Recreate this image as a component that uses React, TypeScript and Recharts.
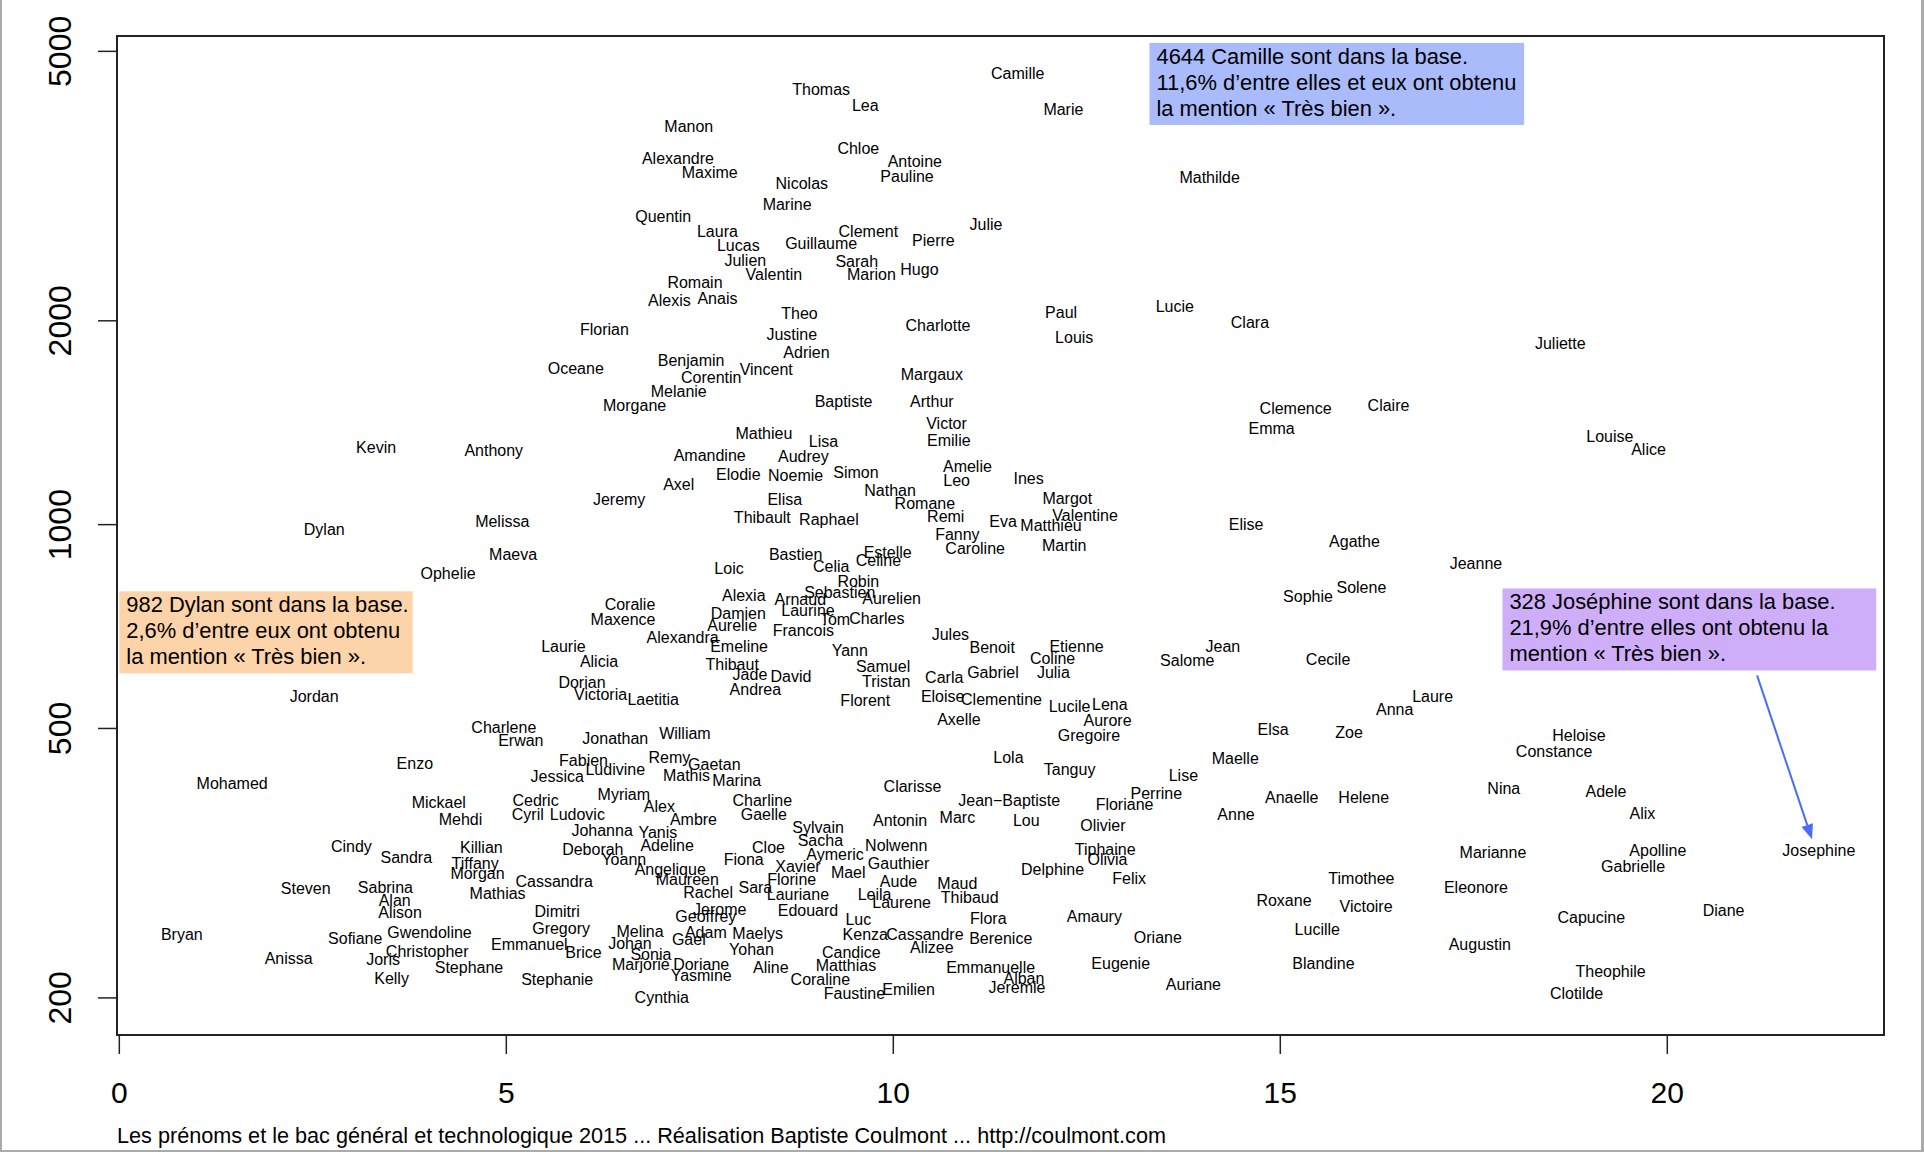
import React from 'react';
import { ScatterChart, Scatter, XAxis, YAxis, ReferenceArea, ReferenceLine } from 'recharts';

const FONT = '"Liberation Sans", Arial, sans-serif';

const xTicks = [0, 5, 10, 15, 20];
const yTicks = [200, 500, 1000, 2000, 5000];

const names = [
  'Camille', 'Marie', 'Thomas', 'Lea', 'Manon', 'Alexandre', 'Maxime', 'Chloe', 'Antoine', 'Pauline',
  'Nicolas', 'Marine', 'Mathilde', 'Quentin', 'Laura', 'Lucas', 'Guillaume', 'Clement', 'Pierre', 'Julie',
  'Julien', 'Sarah', 'Valentin', 'Marion', 'Hugo', 'Romain', 'Alexis', 'Anais', 'Theo', 'Charlotte',
  'Paul', 'Louis', 'Lucie', 'Clara', 'Juliette', 'Florian', 'Justine', 'Adrien', 'Oceane', 'Benjamin',
  'Corentin', 'Vincent', 'Margaux', 'Melanie', 'Morgane', 'Baptiste', 'Arthur', 'Clemence', 'Claire', 'Emma',
  'Victor', 'Emilie', 'Mathieu', 'Lisa', 'Louise', 'Alice', 'Kevin', 'Anthony', 'Amandine', 'Audrey',
  'Amelie', 'Leo', 'Ines', 'Simon', 'Elodie', 'Noemie', 'Axel', 'Jeremy', 'Nathan', 'Margot',
  'Romane', 'Elisa', 'Thibault', 'Raphael', 'Remi', 'Valentine', 'Eva', 'Matthieu', 'Melissa', 'Dylan',
  'Elise', 'Fanny', 'Agathe', 'Caroline', 'Martin', 'Maeva', 'Bastien', 'Estelle', 'Celine', 'Celia',
  'Jeanne', 'Ophelie', 'Loic', 'Robin', 'Solene', 'Sophie', 'Sebastien', 'Alexia', 'Arnaud', 'Aurelien',
  'Coralie', 'Damien', 'Laurine', 'Maxence', 'Tom', 'Charles', 'Aurelie', 'Francois', 'Alexandra', 'Jules',
  'Benoit', 'Etienne', 'Laurie', 'Emeline', 'Yann', 'Coline', 'Jean', 'Salome', 'Cecile', 'Alicia',
  'Thibaut', 'Samuel', 'Julia', 'Gabriel', 'Carla', 'Jade', 'David', 'Tristan', 'Dorian', 'Andrea',
  'Victoria', 'Eloise', 'Clementine', 'Laetitia', 'Jordan', 'Florent', 'Laure', 'Lena', 'Lucile', 'Anna',
  'Axelle', 'Aurore', 'Elsa', 'Charlene', 'Zoe', 'Gregoire', 'Erwan', 'Jonathan', 'William', 'Heloise',
  'Constance', 'Fabien', 'Remy', 'Gaetan', 'Enzo', 'Ludivine', 'Jessica', 'Mathis', 'Marina', 'Lola',
  'Tanguy', 'Lise', 'Maelle', 'Mohamed', 'Clarisse', 'Perrine', 'Myriam', 'Charline', 'Cedric', 'Mickael',
  'Jean\u2212Baptiste', 'Anaelle', 'Helene', 'Floriane', 'Nina', 'Adele', 'Alex', 'Gaelle', 'Cyril', 'Ludovic',
  'Mehdi', 'Ambre', 'Antonin', 'Marc', 'Lou', 'Anne', 'Alix', 'Sylvain', 'Olivier', 'Johanna',
  'Yanis', 'Sacha', 'Cindy', 'Deborah', 'Adeline', 'Cloe', 'Killian', 'Nolwenn', 'Tiphaine', 'Apolline',
  'Marianne', 'Josephine', 'Aymeric', 'Sandra', 'Yoann', 'Fiona', 'Olivia', 'Gauthier', 'Tiffany', 'Angelique',
  'Xavier', 'Gabrielle', 'Delphine', 'Mael', 'Morgan', 'Maureen', 'Florine', 'Felix', 'Timothee', 'Aude',
  'Cassandra', 'Maud', 'Steven', 'Sabrina', 'Sara', 'Rachel', 'Mathias', 'Leila', 'Eleonore', 'Lauriane',
  'Thibaud', 'Alan', 'Laurene', 'Roxane', 'Victoire', 'Dimitri', 'Alison', 'Jerome', 'Edouard', 'Geoffrey',
  'Capucine', 'Diane', 'Amaury', 'Luc', 'Flora', 'Melina', 'Gregory', 'Bryan', 'Adam', 'Maelys',
  'Kenza', 'Cassandre', 'Lucille', 'Gwendoline', 'Sofiane', 'Gael', 'Berenice', 'Oriane', 'Johan', 'Emmanuel',
  'Augustin', 'Yohan', 'Alizee', 'Christopher', 'Brice', 'Sonia', 'Candice', 'Marjorie', 'Joris', 'Anissa',
  'Doriane', 'Matthias', 'Aline', 'Stephane', 'Emmanuelle', 'Blandine', 'Eugenie', 'Theophile', 'Yasmine', 'Stephanie',
  'Kelly', 'Alban', 'Coraline', 'Jeremie', 'Auriane', 'Emilien', 'Faustine', 'Clotilde', 'Cynthia',
];

// part de mentions "Tres bien", en %
const mention = [
  11.6, 12.19, 9.06, 9.63, 7.35, 7.21, 7.62, 9.54, 10.27, 10.17,
  8.81, 8.62, 14.08, 7.02, 7.72, 7.99, 9.06, 9.67, 10.51, 11.19,
  8.08, 9.52, 8.45, 9.71, 10.33, 7.43, 7.1, 7.72, 8.78, 10.57,
  12.16, 12.33, 13.63, 14.6, 18.61, 6.26, 8.68, 8.87, 5.89, 7.38,
  7.64, 8.35, 10.49, 7.22, 6.65, 9.35, 10.49, 15.19, 16.39, 14.88,
  10.68, 10.71, 8.32, 9.09, 19.25, 19.75, 3.31, 4.83, 7.62, 8.83,
  10.95, 10.81, 11.74, 9.51, 7.99, 8.73, 7.22, 6.45, 9.95, 12.24,
  10.4, 8.59, 8.3, 9.16, 10.67, 12.47, 11.41, 12.03, 4.94, 2.64,
  14.55, 10.82, 15.95, 11.05, 12.2, 5.08, 8.73, 9.92, 9.8, 9.19,
  17.52, 4.24, 7.87, 9.54, 16.04, 15.35, 9.3, 8.06, 8.79, 9.97,
  6.59, 7.99, 8.89, 6.5, 9.24, 9.78, 7.91, 8.83, 7.27, 10.73,
  11.27, 12.36, 5.73, 8.0, 9.43, 12.05, 14.25, 13.79, 15.61, 6.19,
  7.91, 9.86, 12.06, 11.28, 10.65, 8.14, 8.67, 9.9, 5.97, 8.21,
  6.21, 10.63, 11.39, 6.89, 2.51, 9.63, 16.96, 12.79, 12.27, 16.47,
  10.84, 12.76, 14.9, 4.96, 15.88, 12.52, 5.18, 6.4, 7.3, 18.85,
  18.53, 5.99, 7.1, 7.68, 3.81, 6.4, 5.65, 7.32, 7.97, 11.48,
  12.27, 13.74, 14.41, 1.45, 10.24, 13.39, 6.51, 8.3, 5.37, 4.12,
  11.49, 15.14, 16.07, 12.98, 17.88, 19.2, 6.97, 8.32, 5.27, 5.91,
  4.4, 7.41, 10.08, 10.82, 11.71, 14.42, 19.67, 9.02, 12.7, 6.23,
  6.95, 9.05, 2.99, 6.11, 7.07, 8.38, 4.67, 10.03, 12.73, 19.87,
  17.74, 21.95, 9.24, 3.7, 6.51, 8.06, 12.76, 10.06, 4.59, 7.11,
  8.76, 19.55, 12.05, 9.41, 4.62, 7.33, 8.68, 13.04, 16.04, 10.06,
  5.61, 10.82, 2.4, 3.43, 8.21, 7.6, 4.88, 9.75, 17.52, 8.76,
  10.98, 3.55, 10.1, 15.04, 16.1, 5.65, 3.62, 7.75, 8.89, 7.57,
  19.01, 20.72, 12.59, 9.54, 11.22, 6.72, 5.7, 0.8, 7.57, 8.24,
  9.63, 10.4, 15.47, 4.0, 3.04, 7.35, 11.38, 13.41, 6.59, 5.29,
  17.57, 8.16, 10.49, 3.97, 5.99, 6.86, 9.45, 6.73, 3.4, 2.18,
  7.51, 9.38, 8.41, 4.51, 11.25, 15.55, 12.93, 19.26, 7.51, 5.65,
  3.51, 11.68, 9.05, 11.59, 13.87, 10.19, 9.49, 18.82, 7.0,
];

// nombre de candidats portant le prenom
const effectif = [
  4644, 4098, 4395, 4165, 3879, 3479, 3309, 3598, 3436, 3268,
  3188, 2969, 3255, 2848, 2709, 2587, 2598, 2709, 2630, 2776,
  2457, 2447, 2340, 2340, 2379, 2282, 2144, 2161, 2047, 1971,
  2056, 1891, 2099, 1987, 1852, 1939, 1907, 1798, 1703, 1746,
  1648, 1696, 1668, 1574, 1497, 1521, 1521, 1484, 1497, 1388,
  1411, 1332, 1365, 1326, 1348, 1293, 1299, 1288, 1266, 1261,
  1220, 1160, 1170, 1195, 1185, 1180, 1146, 1089, 1122, 1094,
  1076, 1089, 1023, 1019, 1028, 1032, 1011, 998, 1010, 982,
  1002, 966, 945, 922, 930, 903, 903, 910, 884, 866,
  877, 848, 862, 824, 807, 783, 793, 786, 774, 777,
  762, 739, 748, 724, 724, 727, 709, 697, 682, 688,
  659, 661, 661, 661, 652, 635, 661, 630, 633, 628,
  622, 617, 605, 605, 595, 600, 597, 587, 585, 570,
  561, 558, 552, 552, 558, 549, 558, 542, 538, 534,
  516, 513, 499, 501, 493, 489, 480, 484, 491, 489,
  462, 448, 453, 442, 444, 435, 424, 426, 419, 453,
  435, 426, 451, 415, 410, 401, 400, 391, 391, 389,
  391, 395, 396, 386, 408, 403, 384, 373, 373, 373,
  367, 367, 366, 369, 366, 373, 374, 357, 360, 353,
  351, 342, 335, 331, 336, 333, 334, 336, 331, 330,
  328, 330, 326, 322, 320, 320, 320, 316, 316, 310,
  313, 313, 309, 306, 305, 299, 299, 300, 300, 297,
  297, 295, 290, 291, 291, 286, 285, 284, 291, 284,
  281, 279, 277, 279, 273, 268, 267, 270, 269, 264,
  263, 269, 264, 261, 262, 251, 253, 248, 250, 249,
  248, 248, 252, 250, 245, 244, 245, 246, 241, 240,
  240, 236, 237, 234, 233, 232, 233, 224, 228, 229,
  224, 223, 222, 222, 222, 225, 225, 219, 216, 213,
  214, 214, 213, 207, 209, 206, 203, 203, 200,
];

const noteCamille = [
  '4644 Camille sont dans la base.',
  '11,6% d\u2019entre elles et eux ont obtenu',
  'la mention « Très bien ».',
];
const noteDylan = [
  '982 Dylan sont dans la base.',
  '2,6% d\u2019entre eux ont obtenu',
  'la mention « Très bien ».',
];
const noteJosephine = [
  '328 Joséphine sont dans la base.',
  '21,9% d\u2019entre elles ont obtenu la',
  'mention « Très bien ».',
];

const caption =
  'Les prénoms et le bac général et technologique 2015 ... Réalisation Baptiste Coulmont ... http://coulmont.com';

const data = names.map((name, i) => ({ name, mention: mention[i], effectif: effectif[i] }));

const NameLabel = (props: any) => (
  <text
    x={props.cx + 0.6}
    y={props.cy}
    textAnchor="middle"
    dominantBaseline="central"
    fontFamily={FONT}
    fontSize={16}
    fill="#000"
  >
    {props.payload.name}
  </text>
);

const noteShape = (lines: string[], fill: string) => (props: any) => (
  <g>
    <rect x={props.x} y={props.y} width={props.width} height={props.height} fill={fill} />
    {lines.map((line, i) => (
      <text key={i} x={props.x + 7} y={props.y + 21 + i * 26} fontFamily={FONT} fontSize={21.9} fill="#000">
        {line}
      </text>
    ))}
  </g>
);

const Arrow = (props: any) => {
  const { x1, y1, x2, y2 } = props;
  const len = Math.hypot(x2 - x1, y2 - y1);
  const ux = (x2 - x1) / len;
  const uy = (y2 - y1) / len;
  const bx = x2 - ux * 15;
  const by = y2 - uy * 15;
  return (
    <g>
      <line x1={x1} y1={y1} x2={bx} y2={by} stroke="#4a6cf7" strokeWidth={2} />
      <polygon
        points={`${x2},${y2} ${bx - uy * 6},${by + ux * 6} ${bx + uy * 6},${by - ux * 6}`}
        fill="#4a6cf7"
      />
    </g>
  );
};

const XTick = (props: any) => (
  <text x={props.x} y={1092} textAnchor="middle" dominantBaseline="central" fontFamily={FONT} fontSize={30} fill="#000">
    {props.payload.value}
  </text>
);

const YTick = (props: any) => (
  <text
    x={60}
    y={props.y}
    transform={`rotate(-90 60 ${props.y})`}
    textAnchor="middle"
    dominantBaseline="central"
    fontFamily={FONT}
    fontSize={32}
    fill="#000"
  >
    {props.payload.value}
  </text>
);

const App = () => (
  <div
    style={{
      position: 'absolute',
      left: 0,
      top: 0,
      width: 1924,
      height: 1152,
      boxSizing: 'border-box',
      overflow: 'hidden',
      background: '#fff',
    }}
  >
    <ScatterChart width={1924} height={1152} margin={{ top: 36, right: 40, bottom: 0, left: 0 }}>
      <XAxis
        type="number"
        dataKey="mention"
        domain={[-0.03, 22.8]}
        ticks={xTicks}
        allowDataOverflow
        height={117}
        tickSize={19}
        axisLine={false}
        tickLine={{ stroke: '#222', strokeWidth: 1.5 }}
        tick={<XTick />}
        interval={0}
      />
      <YAxis
        type="number"
        dataKey="effectif"
        scale="log"
        domain={[176.3, 5268]}
        ticks={yTicks}
        allowDataOverflow
        width={117}
        tickSize={19}
        axisLine={false}
        tickLine={{ stroke: '#222', strokeWidth: 1.5 }}
        tick={<YTick />}
        interval={0}
      />
      <ReferenceArea x1={-0.03} x2={22.8} y1={176.3} y2={5268} fill="none" stroke="#222" strokeWidth={2} ifOverflow="visible" />
      <ReferenceArea x1={13.31} x2={18.15} y1={3893} y2={5146} shape={noteShape(noteCamille, '#aabbfb')} />
      <ReferenceArea x1={0} x2={3.79} y1={603} y2={797} shape={noteShape(noteDylan, '#fdd3aa')} />
      <ReferenceArea x1={17.87} x2={22.7} y1={609} y2={805} shape={noteShape(noteJosephine, '#cfaef9')} />
      <ReferenceLine
        segment={[
          { x: 21.16, y: 599 },
          { x: 21.87, y: 343 },
        ]}
        shape={Arrow}
      />
      <Scatter data={data} isAnimationActive={false} shape={NameLabel} />
    </ScatterChart>
    <div
      style={{
        position: 'absolute',
        left: 117,
        top: 1123,
        fontFamily: FONT,
        fontSize: 21.65,
        whiteSpace: 'nowrap',
        color: '#000',
      }}
    >
      {caption}
    </div>
    <div style={{ position: 'absolute', left: 0, top: 0, width: 1924, height: 1152, boxSizing: 'border-box', borderLeft: '2px solid #aaa', borderRight: '3px solid #aaa', borderBottom: '2px solid #aaa', pointerEvents: 'none' }} />
  </div>
);

export default App;
